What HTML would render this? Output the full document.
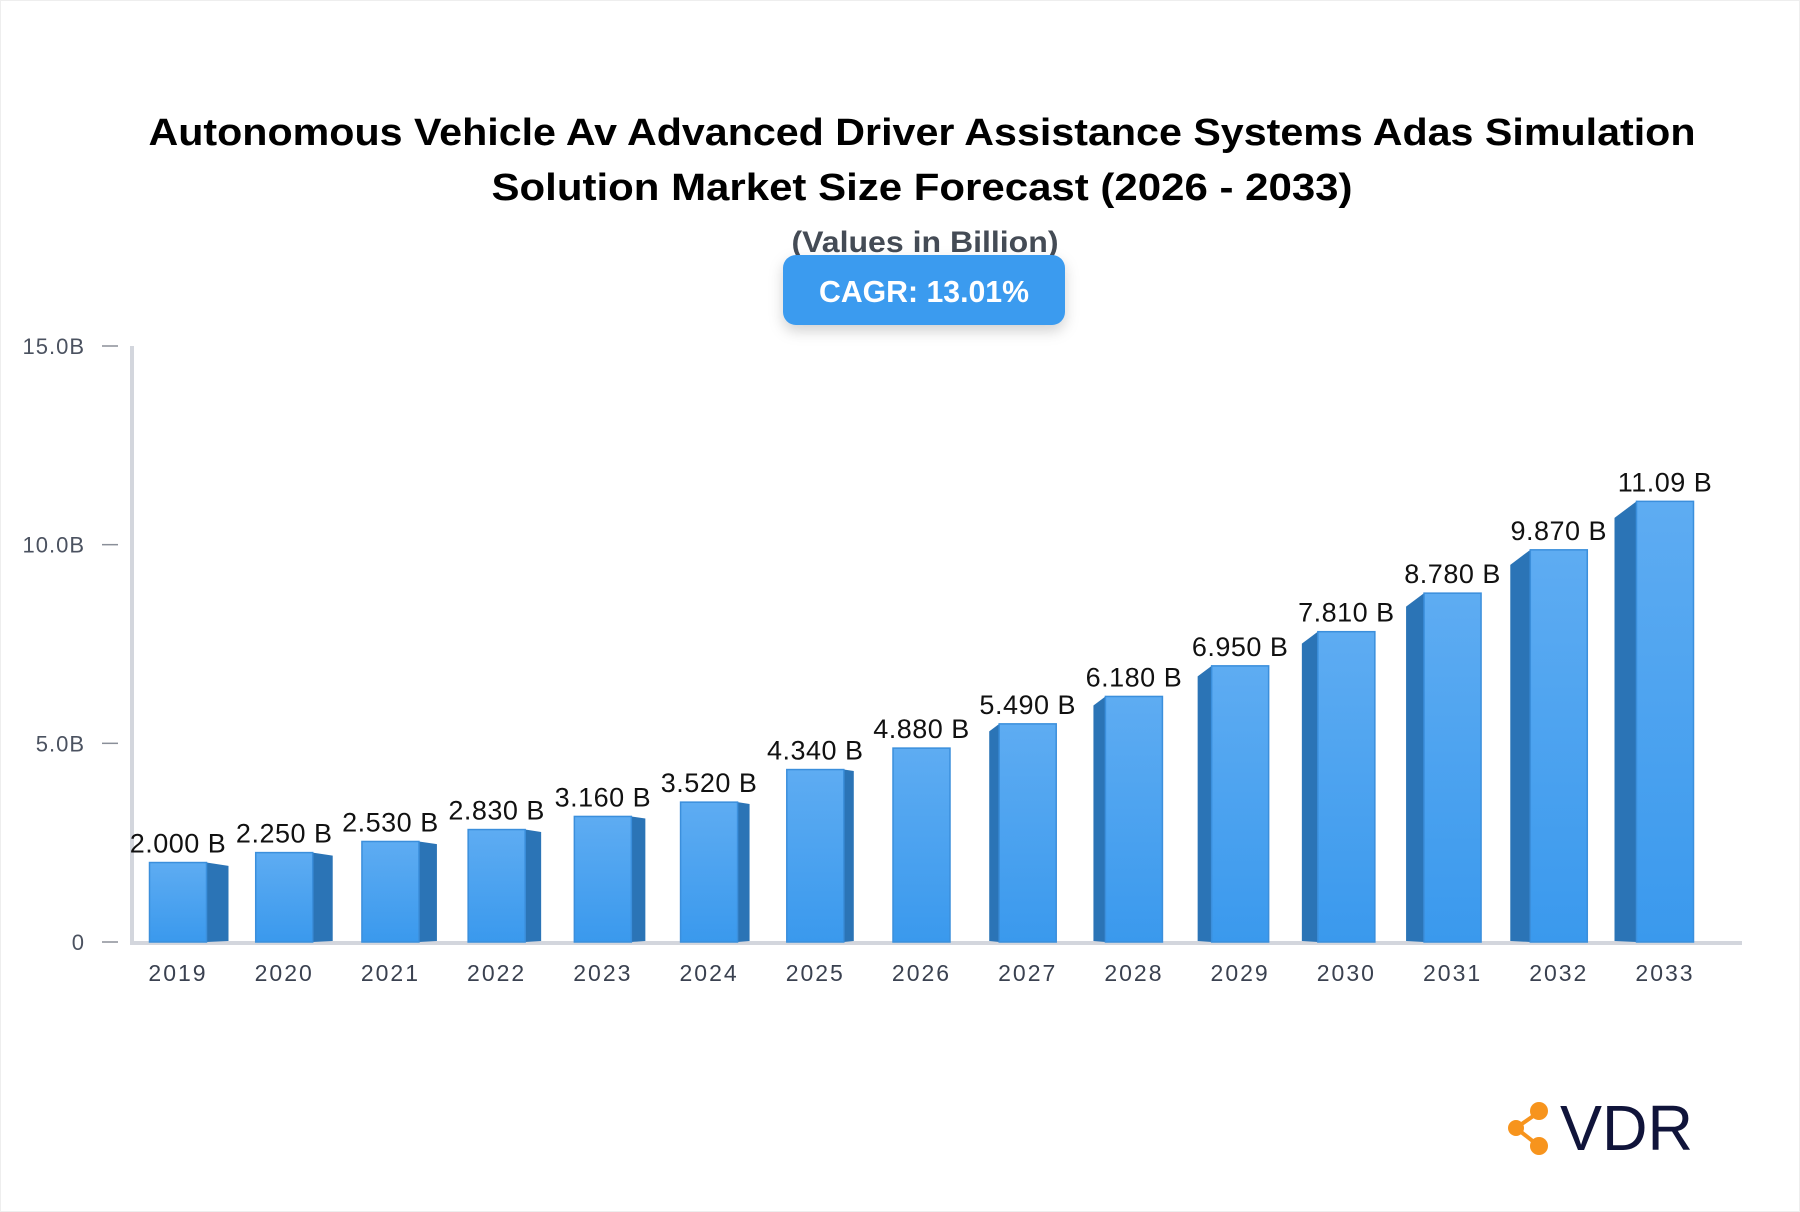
<!DOCTYPE html>
<html><head><meta charset="utf-8"><style>
html,body{margin:0;padding:0;background:#fff;}
svg{display:block;font-family:"Liberation Sans",sans-serif;}
</style></head><body>
<svg id="chart" width="1800" height="1212" viewBox="0 0 1800 1212">
<defs>
<linearGradient id="fg" x1="0" y1="0" x2="0" y2="1"><stop offset="0" stop-color="#5eacf2"/><stop offset="1" stop-color="#3a99ed"/></linearGradient>
<filter id="sh" x="-20%" y="-20%" width="140%" height="160%"><feDropShadow dx="0" dy="6" stdDeviation="7" flood-color="#000" flood-opacity="0.18"/></filter>
</defs>
<rect x="0.5" y="0.5" width="1799" height="1211" fill="#fff" stroke="#eeeeee"/>
<text x="922" y="145" font-size="38" font-weight="bold" text-anchor="middle" textLength="1547" lengthAdjust="spacingAndGlyphs" fill="#000">Autonomous Vehicle Av Advanced Driver Assistance Systems Adas Simulation</text>
<text x="922" y="200" font-size="38" font-weight="bold" text-anchor="middle" textLength="861" lengthAdjust="spacingAndGlyphs" fill="#000">Solution Market Size Forecast (2026 - 2033)</text>
<text x="925" y="252" font-size="30" font-weight="bold" text-anchor="middle" textLength="267" lengthAdjust="spacingAndGlyphs" fill="#444b55">(Values in Billion)</text>
<g>
<rect x="783" y="255" width="282" height="70" rx="13" fill="#3a9bef" filter="url(#sh)"/>
<text x="924" y="302" font-size="31" font-weight="bold" text-anchor="middle" textLength="210" lengthAdjust="spacingAndGlyphs" fill="#fff">CAGR: 13.01%</text>
</g>
<g id="axes"></g>
<g id="bars"></g>
<g>
<line x1="1516" y1="1128" x2="1539" y2="1112" stroke="#f7941d" stroke-width="4"/>
<line x1="1516" y1="1128" x2="1539" y2="1146" stroke="#f7941d" stroke-width="4"/>
<circle cx="1516" cy="1128" r="8" fill="#f7941d"/>
<circle cx="1539" cy="1111" r="9" fill="#f7941d"/>
<circle cx="1539" cy="1146" r="9" fill="#f7941d"/>
<text x="1560" y="1150" font-size="64" fill="#10143a" textLength="133" lengthAdjust="spacingAndGlyphs">VDR</text>
</g>
</svg>
<script>
const years = ["2019","2020","2021","2022","2023","2024","2025","2026","2027","2028","2029","2030","2031","2032","2033"];
const values = [2.00,2.25,2.53,2.83,3.16,3.52,4.34,4.88,5.49,6.18,6.95,7.81,8.78,9.87,11.09];
const valueLabels = ["2.000 B","2.250 B","2.530 B","2.830 B","3.160 B","3.520 B","4.340 B","4.880 B","5.490 B","6.180 B","6.950 B","7.810 B","8.780 B","9.870 B","11.09 B"];
const tickValues = [0,5,10,15];
const tickLabels = ["0","5.0B","10.0B","15.0B"];

const NS="http://www.w3.org/2000/svg";
const y0=942, yTop=346, vMax=15;
const yS=v=>y0-(v/vMax)*(y0-yTop);
const c0=178, cN=1665;
const xS=i=>c0+i*(cN-c0)/(years.length-1);
const bw=57;
function mk(tag,attrs,parent){const e=document.createElementNS(NS,tag);for(const k in attrs)e.setAttribute(k,attrs[k]);parent.appendChild(e);return e;}
const axes=document.getElementById('axes'), bars=document.getElementById('bars');

const yAxis=mk('line',{x1:132,y1:yTop,x2:132,y2:y0+2,stroke:'#d3d6dd','stroke-width':4},axes);


const xAxis=mk('line',{x1:130,y1:y0+1,x2:1742,y2:y0+1,stroke:'#d3d6dd','stroke-width':4},axes);



tickValues.forEach((v,i)=>{
  const y=yS(v);
  const t=mk('line',{x1:102,y1:y,x2:118,y2:y,stroke:'#8a8f99','stroke-width':1.5},axes);
  
  
  const l=mk('text',{x:85,y:y+8,'font-size':22,'text-anchor':'end',fill:'#4b5260','letter-spacing':'1'},axes);
  l.textContent=tickLabels[i];
  
  
});

const n=years.length, mid=(n-1)/2;
years.forEach((yr,i)=>{
  const cx=xS(i), yt=yS(values[i]);
  const x1=cx-bw/2, x2=cx+bw/2;
  const off=(mid-i)/mid;
  const d = i===mid ? 0 : Math.sign(off)*(8+14*Math.abs(off));
  const g=mk('g',{},bars);
  
  
  if(Math.abs(d)>0.5){
    let pts;
    if(d>0){pts=[[x2,yt],[x2+d,yt+d*0.15],[x2+d,y0-1],[x2,y0]];}
    else{pts=[[x1,yt],[x1+d,yt-d*0.75],[x1+d,y0-1],[x1,y0]];}
    const s=mk('polygon',{points:pts.map(p=>p.join(',')).join(' '),fill:'#2b74b6'},g);
    
    
  }
  const f=mk('rect',{x:x1,y:yt,width:bw,height:y0-yt,fill:'url(#fg)',stroke:'#3b8fdc','stroke-width':1.5},g);
  
  
  const lab=mk('text',{x:cx,y:yt-10,'font-size':27,'text-anchor':'middle',fill:'#111','letter-spacing':'0.5'},g);
  lab.textContent=valueLabels[i];
  
  
  const xl=mk('text',{x:cx,y:981,'font-size':23,'text-anchor':'middle',fill:'#3a4150','letter-spacing':'2'},axes);
  xl.textContent=yr;
  
  
});
</script>
</body></html>
